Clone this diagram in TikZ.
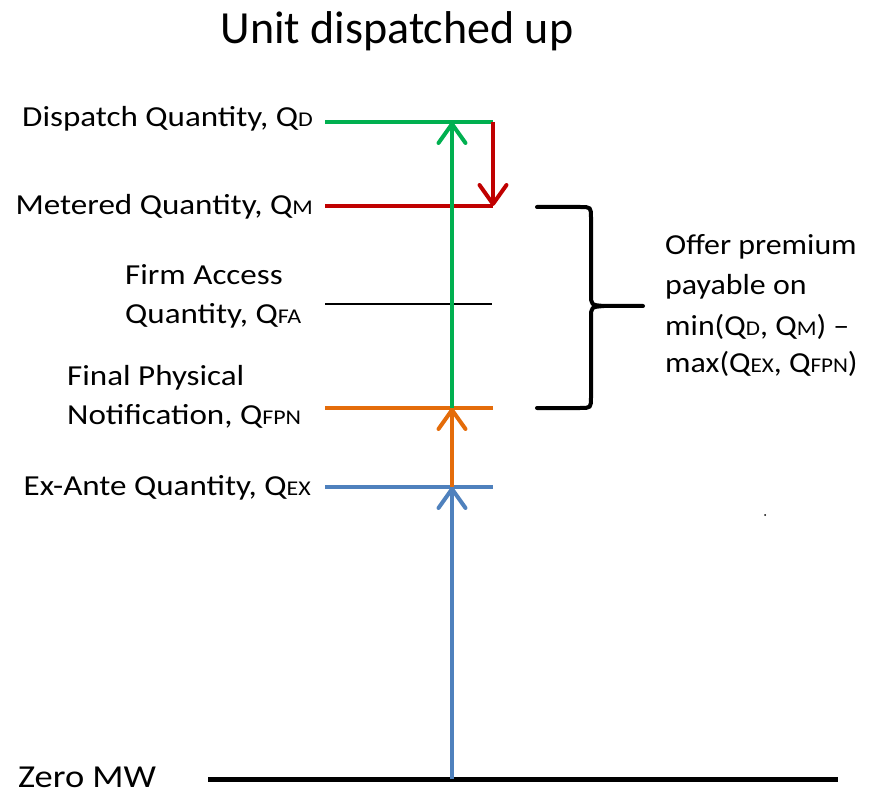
\documentclass[tikz,border=0pt]{standalone}
\usepackage{fontspec}
\setmainfont{Carlito}
\newfontfamily\widefont{Carlito}[FakeStretch=1.14]
\newfontfamily\midfont{Carlito}[FakeStretch=1.10]
\usetikzlibrary{arrows.meta}
\definecolor{qgreen}{RGB}{0,176,80}
\definecolor{qred}{RGB}{192,0,0}
\definecolor{qorange}{RGB}{228,108,10}
\definecolor{qblue}{RGB}{79,129,189}
\newcommand{\qsub}[1]{{\fontsize{21}{21}\selectfont #1}}
\begin{document}
\begin{tikzpicture}[x=1pt,y=-1pt,
  lbl/.style={inner sep=0pt,font=\widefont\fontsize{29}{40}\selectfont,text=black},
  rtext/.style={inner sep=0pt,font=\midfont\fontsize{29}{40}\selectfont,text=black},
  level/.style={line width=4pt},
  uparrow/.style={line width=4pt,-{Straight Barb[length=19pt,width=27pt,line cap=round,line join=round]}}]
\useasboundingbox (0,0) rectangle (881,794);
% title
\node[inner sep=0pt,font=\fontsize{46}{50}\selectfont,anchor=base] (title) at (397,44) {Unit dispatched up};
% level coordinates
\coordinate (dL) at (325,122); \coordinate (dR) at (493,122);
\coordinate (mL) at (325,206); \coordinate (mR) at (493,206);
\coordinate (faL) at (325,304); \coordinate (faR) at (492,304);
\coordinate (fL) at (325,408); \coordinate (fR) at (493,408);
\coordinate (eL) at (325,487); \coordinate (eR) at (493,487);
\coordinate (zL) at (208,779); \coordinate (zR) at (838,779);
\coordinate (zA) at (452,779);
\coordinate (eA) at (452,487);
\coordinate (fA) at (452,408);
\coordinate (dA) at (452,122);
% level lines
\draw[level,qgreen] (dL) -- (dR);
\draw[level,qred] (mL) -- (mR);
\draw[line width=2.5pt,black] (faL) -- (faR);
\draw[level,qorange] (fL) -- (fR);
\draw[level,qblue] (eL) -- (eR);
\draw[line width=5pt,black] (zL) -- (zR);
% arrows
\draw[uparrow,qblue] (zA) -- (eA);
\draw[uparrow,qorange] (eA) -- (fA);
\draw[uparrow,qgreen] (fA) -- (dA);
\draw[uparrow,qred] (dR) -- (mR);
% labels
\node[lbl,anchor=base east] (ld) at (313,127) {Dispatch Quantity,\ Q\qsub{D}};
\node[lbl,anchor=base east] (lm) at (313,215) {Metered\ Quantity,\ Q\qsub{M}};
\node[lbl,anchor=base west] (lfa1) at (125,285) {Firm\ Access};
\node[lbl,anchor=base west] (lfa2) at (125,324) {Quantity,\ Q\qsub{FA}};
\node[lbl,anchor=base west] (lf1) at (67,385) {Final Physical};
\node[lbl,anchor=base west] (lf2) at (67,424) {Notification,\ Q\qsub{FPN}};
\node[lbl,anchor=base east] (le) at (311,495) {Ex-Ante Quantity,\ Q\qsub{EX}};
\node[lbl,anchor=base west,font=\widefont\fontsize{32}{36}\selectfont] (lz) at (18,787) {Zero MW};
% brace
\draw[line width=4pt,line cap=round,line join=round]
  (537,207) -- (580,207) .. controls (591,207) .. (591,218) -- (591,294)
  .. controls (591,305) .. (604,306) -- (643,306) -- (604,306)
  .. controls (591,307) .. (591,318) -- (591,397)
  .. controls (591,408) .. (580,408) -- (537,408);
% right text
\node[rtext,anchor=base west] (r1) at (665,255) {Offer premium};
\node[rtext,anchor=base west] (r2) at (665,295) {payable on};
\node[rtext,anchor=base west] (r3) at (665,335) {min(Q\qsub{D}, Q\qsub{M}) –};
\node[rtext,anchor=base west] (r4) at (665,373) {max(Q\qsub{EX}, Q\qsub{FPN})};
% stray dot
\fill (765,515) circle (1pt);
\end{tikzpicture}
\end{document}
